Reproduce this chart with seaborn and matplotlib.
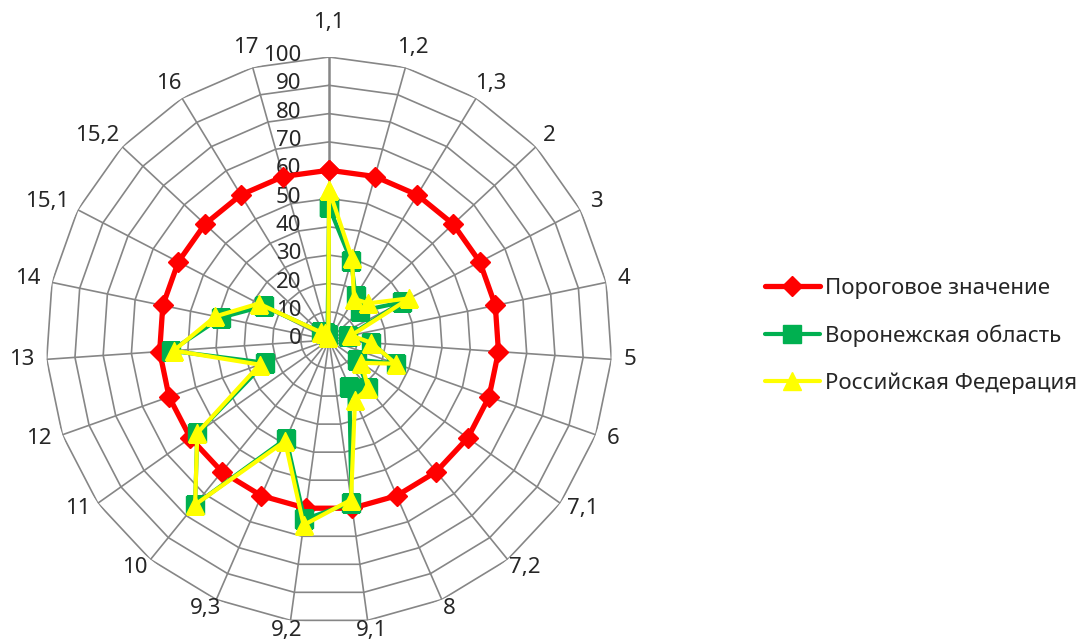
import numpy as np
import pandas as pd
import seaborn as sns
import matplotlib.pyplot as plt
from matplotlib.transforms import offset_copy

categories = ['1,1', '1,2', '1,3', '2', '3', '4', '5', '6', '7,1', '7,2', '8',
              '9,1', '9,2', '9,3', '10', '11', '12', '13', '14', '15,1', '15,2', '16', '17']
threshold = [60, 60, 60, 60, 60, 60, 60, 60, 60, 60, 60, 60,
             60, 60, 60, 60, 60, 60, 60, 60, 60, 60, 60]
voronezh = [47, 29, 18, 15, 29, 7, 15, 25, 12, 22, 18, 58,
            64, 38, 75, 57, 24, 56, 39, 26, 4, 3, 2]
russia = [53, 30, 17, 19, 32, 8, 15, 25, 14, 22, 23, 57,
          66, 39, 75, 57, 26, 55, 41, 28, 4, 3, 1]
r_ticks = [0, 10, 20, 30, 40, 50, 60, 70, 80, 90, 100]

sns.set_style('white')
plt.rcParams['font.family'] = ['Noto Sans', 'DejaVu Sans']
FS = 16

n = len(categories)
theta = np.linspace(0, 2 * np.pi, n, endpoint=False)
theta_closed = np.append(theta, 2 * np.pi)

fig = plt.figure(figsize=(10.86, 6.42), dpi=100)
ax = fig.add_axes([0.0424, 0.0296, 0.5212, 0.8816], projection='polar')
ax.set_theta_zero_location('N')
ax.set_theta_direction(-1)
ax.set_ylim(0, 100)
ax.grid(False)
ax.spines['polar'].set_visible(False)
ax.set_xticks([])
ax.set_yticks([])

# сетка-многоугольник как в Excel
grid_color = '#868686'
for lvl in r_ticks[1:]:
    ax.plot(theta_closed, [lvl] * (n + 1), color=grid_color, lw=1.2, zorder=1)
for i, t in enumerate(theta):
    ax.plot([t, t], [0, 100], color=grid_color, lw=1.8 if i == 0 else 1.2, zorder=1)

# подписи шкалы слева от оси 1,1
tr = offset_copy(ax.transData, fig=fig, x=-20, y=1, units='points')
for v in r_ticks:
    ax.text(0, v, str(v), transform=tr, ha='right', va='center', fontsize=FS)

# подписи категорий снаружи вершин многоугольника
renderer = fig.canvas.get_renderer()
for t, lab in zip(theta, categories):
    s, c = np.sin(t), np.cos(t)
    txt = ax.text(t, 100, lab, ha='center', va='center', fontsize=FS)
    w = txt.get_window_extent(renderer).width
    dx = s * (12 + w / 2)
    dy = 17 * c + 18 * max(c, 0) ** 40 if c > 0 else 10 * c
    txt.set_transform(offset_copy(ax.transData, fig=fig, x=dx, y=dy, units='dots'))

series = [
    ('Пороговое значение', threshold, '#FF0000', 'D', 3.8, 10),
    ('Воронежская область', voronezh, '#00B050', 's', 3.0, 13),
    ('Российская Федерация', russia, '#FFFF00', '^', 3.0, 13.5),
]
for k, (name, vals, color, marker, lw, ms) in enumerate(series):
    df = pd.DataFrame({'theta': theta_closed, 'value': vals + vals[:1]})
    sns.lineplot(data=df, x='theta', y='value', ax=ax, sort=False, color=color,
                 marker=marker, lw=lw, markersize=ms, markeredgecolor=color,
                 markeredgewidth=1, label=name, zorder=3 + k)
ax.set_xlabel('')
ax.set_ylabel('')

handles, labels = ax.get_legend_handles_labels()
ax.legend(handles, labels, loc='center left', bbox_to_anchor=(0.704, 0.4766),
          bbox_transform=fig.transFigure, frameon=False, fontsize=FS,
          handlelength=2.5, handletextpad=0.2, labelspacing=1.15,
          borderpad=0, borderaxespad=0)

fig.savefig('out.png', dpi=100)
